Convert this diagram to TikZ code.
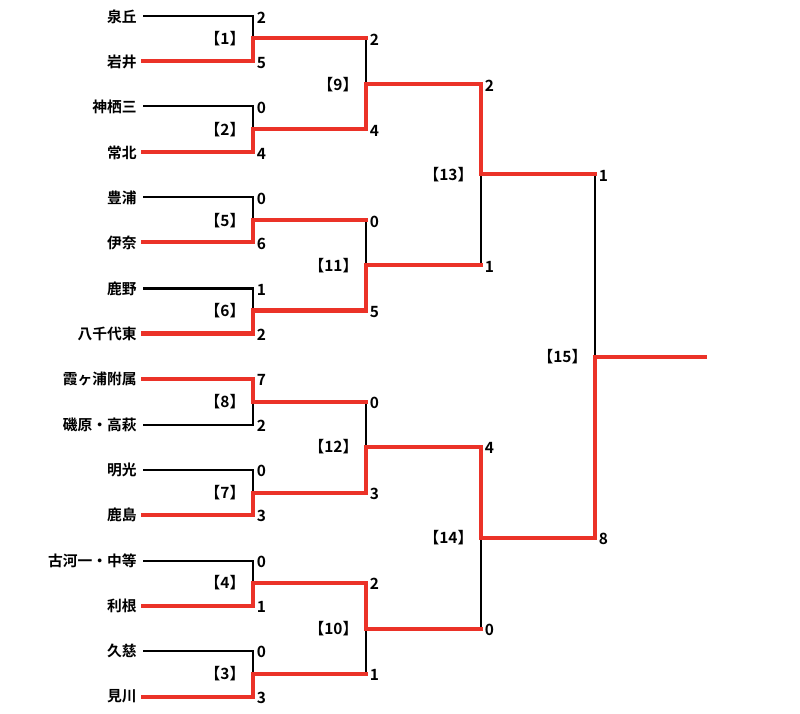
\documentclass[tikz,border=0pt]{standalone}
\usepackage{fontspec}
\setmainfont{Noto Sans CJK JP}[BoldFont={Noto Sans CJK JP Bold}]
\definecolor{winred}{RGB}{235, 50, 40}
\usetikzlibrary{positioning}

\tikzset{
  team/.style={anchor=east, inner xsep=0.15cm, inner ysep=0pt, font=\fontsize{10.5}{12}\selectfont\bfseries},
  score/.style={anchor=west, inner xsep=0.1cm, inner ysep=0pt, yshift=-0.8pt, font=\fontsize{11}{12}\selectfont\bfseries},
  match/.style={anchor=east, inner sep=0pt, xshift=-0.18cm, font=\fontsize{11}{12}\selectfont\bfseries},
  loseline/.style={draw=black, line width=0.05cm},
  winline/.style={draw=winred, line width=0.1cm, line cap=rect}
}

\begin{document}
\begin{tikzpicture}[x=0.025cm, y=-0.025cm]
  \useasboundingbox (0,0) rectangle (800,714);

  % Teams
  \node[team] (t1) at (143, 16.5) {泉丘};
  \node[team] (t2) at (143, 61.5) {岩井};
  \node[team] (t3) at (143, 106.5) {神栖三};
  \node[team] (t4) at (143, 152.5) {常北};
  \node[team] (t5) at (143, 197.5) {豊浦};
  \node[team] (t6) at (143, 242.5) {伊奈};
  \node[team] (t7) at (143, 288.5) {鹿野};
  \node[team] (t8) at (143, 333.5) {八千代東};
  \node[team] (t9) at (143, 378.5) {霞ヶ浦附属};
  \node[team] (t10) at (143, 424.5) {磯原・高萩};
  \node[team] (t11) at (143, 469.5) {明光};
  \node[team] (t12) at (143, 514.5) {鹿島};
  \node[team] (t13) at (143, 560.5) {古河一・中等};
  \node[team] (t14) at (143, 605.5) {利根};
  \node[team] (t15) at (143, 650.5) {久慈};
  \node[team] (t16) at (143, 696.5) {見川};

  % Round 1 (x = 252)
  \coordinate (m1a) at (252.5, 16.5);  \coordinate (m1b) at (252.5, 61.5);  \coordinate (m1) at (252.5, 38.5);
  \coordinate (m2a) at (252.5, 106.5); \coordinate (m2b) at (252.5, 152.5); \coordinate (m2) at (252.5, 129.5);
  \coordinate (m5a) at (252.5, 197.5); \coordinate (m5b) at (252.5, 242.5); \coordinate (m5) at (252.5, 220.5);
  \coordinate (m6a) at (252.5, 288.5); \coordinate (m6b) at (252.5, 333.5); \coordinate (m6) at (252.5, 310.5);
  \coordinate (m8a) at (252.5, 378.5); \coordinate (m8b) at (252.5, 424.5); \coordinate (m8) at (252.5, 401.5);
  \coordinate (m7a) at (252.5, 469.5); \coordinate (m7b) at (252.5, 514.5); \coordinate (m7) at (252.5, 492.5);
  \coordinate (m4a) at (252.5, 560.5); \coordinate (m4b) at (252.5, 605.5); \coordinate (m4) at (252.5, 582.5);
  \coordinate (m3a) at (252.5, 650.5); \coordinate (m3b) at (252.5, 696.5); \coordinate (m3) at (252.5, 673.5);

  % Round 2 (x = 365)
  \coordinate (m9a) at (365.5, 38.5);   \coordinate (m9b) at (365.5, 129.5);  \coordinate (m9) at (365.5, 84.5);
  \coordinate (m11a) at (365.5, 220.5); \coordinate (m11b) at (365.5, 310.5); \coordinate (m11) at (365.5, 265.5);
  \coordinate (m12a) at (365.5, 401.5); \coordinate (m12b) at (365.5, 492.5); \coordinate (m12) at (365.5, 446.5);
  \coordinate (m10a) at (365.5, 582.5); \coordinate (m10b) at (365.5, 673.5); \coordinate (m10) at (365.5, 628.5);

  % Semi-finals and final
  \coordinate (m13a) at (480.5, 84.5);  \coordinate (m13b) at (480.5, 265.5); \coordinate (m13) at (480.5, 174.5);
  \coordinate (m14a) at (480.5, 446.5); \coordinate (m14b) at (480.5, 628.5); \coordinate (m14) at (480.5, 537.5);
  \coordinate (m15a) at (594.5, 174.5); \coordinate (m15b) at (594.5, 537.5); \coordinate (m15) at (594.5, 356.5);
  \coordinate (champ) at (705, 356.5);

  % Losers
  \draw[loseline] (t1) -- (m1a) -- (m1);
  \draw[loseline] (t3) -- (m2a) -- (m2);
  \draw[loseline] (t5) -- (m5a) -- (m5);
  \draw[loseline] (t7) -- (m6a) -- (m6);
  \draw[loseline] (t10) -- (m8b) -- (m8);
  \draw[loseline] (t11) -- (m7a) -- (m7);
  \draw[loseline] (t13) -- (m4a) -- (m4);
  \draw[loseline] (t15) -- (m3a) -- (m3);
  \draw[loseline] (m9a) -- (m9);
  \draw[loseline] (m11a) -- (m11);
  \draw[loseline] (m12a) -- (m12);
  \draw[loseline] (m10b) -- (m10);
  \draw[loseline] (m13b) -- (m13);
  \draw[loseline] (m14b) -- (m14);
  \draw[loseline] (m15a) -- (m15);

  % Winners
  \draw[winline] (t2) -- (m1b) -- (m1) -- (m9a);
  \draw[winline] (t4) -- (m2b) -- (m2) -- (m9b);
  \draw[winline] (t6) -- (m5b) -- (m5) -- (m11a);
  \draw[winline] (t8) -- (m6b) -- (m6) -- (m11b);
  \draw[winline] (t9) -- (m8a) -- (m8) -- (m12a);
  \draw[winline] (t12) -- (m7b) -- (m7) -- (m12b);
  \draw[winline] (t14) -- (m4b) -- (m4) -- (m10a);
  \draw[winline] (t16) -- (m3b) -- (m3) -- (m10b);
  \draw[winline] (m9b) -- (m9) -- (m13a);
  \draw[winline] (m11b) -- (m11) -- (m13b);
  \draw[winline] (m12b) -- (m12) -- (m14a);
  \draw[winline] (m10a) -- (m10) -- (m14b);
  \draw[winline] (m13a) -- (m13) -- (m15a);
  \draw[winline] (m14a) -- (m14) -- (m15b);
  \draw[winline] (m15b) -- (m15) -- (champ);

  % Scores
  \node[score] at (m1a) {2};  \node[score] at (m1b) {5};
  \node[score] at (m2a) {0};  \node[score] at (m2b) {4};
  \node[score] at (m5a) {0};  \node[score] at (m5b) {6};
  \node[score] at (m6a) {1};  \node[score] at (m6b) {2};
  \node[score] at (m8a) {7};  \node[score] at (m8b) {2};
  \node[score] at (m7a) {0};  \node[score] at (m7b) {3};
  \node[score] at (m4a) {0};  \node[score] at (m4b) {1};
  \node[score] at (m3a) {0};  \node[score] at (m3b) {3};
  \node[score] at (m9a) {2};  \node[score] at (m9b) {4};
  \node[score] at (m11a) {0}; \node[score] at (m11b) {5};
  \node[score] at (m12a) {0}; \node[score] at (m12b) {3};
  \node[score] at (m10a) {2}; \node[score] at (m10b) {1};
  \node[score] at (m13a) {2}; \node[score] at (m13b) {1};
  \node[score] at (m14a) {4}; \node[score] at (m14b) {0};
  \node[score] at (m15a) {1}; \node[score] at (m15b) {8};

  % Match numbers
  \node[match] at (m1) {【1】};
  \node[match] at (m2) {【2】};
  \node[match] at (m5) {【5】};
  \node[match] at (m6) {【6】};
  \node[match] at (m8) {【8】};
  \node[match] at (m7) {【7】};
  \node[match] at (m4) {【4】};
  \node[match] at (m3) {【3】};
  \node[match] at (m9) {【9】};
  \node[match] at (m11) {【11】};
  \node[match] at (m12) {【12】};
  \node[match] at (m10) {【10】};
  \node[match] at (m13) {【13】};
  \node[match] at (m14) {【14】};
  \node[match] at (m15) {【15】};
\end{tikzpicture}
\end{document}
